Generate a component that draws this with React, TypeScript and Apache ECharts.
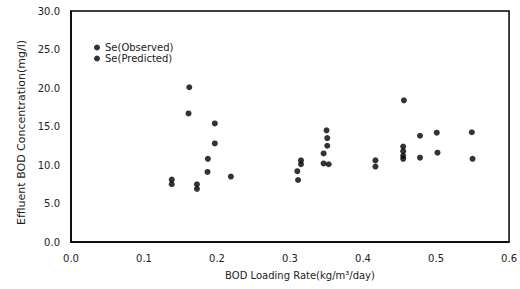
import React, { useEffect, useRef } from "react";
import * as echarts from "echarts";

const observedX = [0.138, 0.1725, 0.162, 0.197, 0.1875, 0.219, 0.31, 0.315, 0.35, 0.351, 0.417, 0.456, 0.455, 0.478, 0.501, 0.549];
const observedY = [8.1, 7.5, 20.1, 15.4, 10.8, 8.5, 9.2, 10.6, 14.5, 13.5, 10.6, 18.4, 12.4, 13.8, 14.2, 14.25];
const predictedX = [0.138, 0.1725, 0.161, 0.197, 0.187, 0.311, 0.315, 0.351, 0.346, 0.346, 0.353, 0.417, 0.455, 0.455, 0.455, 0.478, 0.502, 0.55];
const predictedY = [7.5, 6.9, 16.7, 12.8, 9.1, 8.05, 10.1, 12.5, 11.5, 10.2, 10.1, 9.8, 11.8, 11.2, 10.8, 10.95, 11.6, 10.8];

const seriesNames = ["Se(Observed)", "Se(Predicted)"];
const xTitle = "BOD Loading Rate(kg/m\u00B3/day)";
const yTitle = "Effluent BOD Concentration(mg/l)";

const FONT = "DejaVu Sans";
const TXT = "#222";

export default function App() {
  const ref = useRef<HTMLDivElement>(null);
  useEffect(() => {
    const chart = echarts.init(ref.current!, null, { renderer: "svg" });
    const mk = (xs: number[], ys: number[]) => xs.map((x, i) => [x, ys[i]]);
    chart.setOption({
      animation: false,
      backgroundColor: "#fff",
      grid: {
        left: 71,
        top: 11,
        right: 10,
        bottom: 47,
        show: true,
        borderColor: "#000",
        borderWidth: 1.5,
      },
      legend: {
        orient: "vertical",
        left: 94,
        top: 42,
        itemWidth: 6,
        itemHeight: 6,
        itemGap: 0,
        itemTextGap: 3,
        padding: 0,
        icon: "circle",
        textStyle: { fontFamily: FONT, fontSize: 10, lineHeight: 11, color: TXT },
        data: seriesNames,
      },
      xAxis: {
        type: "value",
        min: 0,
        max: 0.6,
        interval: 0.1,
        name: xTitle,
        nameLocation: "middle",
        nameGap: 28,
        nameTextStyle: { fontFamily: FONT, fontSize: 10, color: TXT, padding: [0, 0, 0, 20] },
        axisLine: { show: true, lineStyle: { color: "#000", width: 1.5 } },
        axisTick: { show: false },
        splitLine: { show: false },
        axisLabel: {
          margin: 11,
          fontFamily: FONT,
          fontSize: 10,
          color: TXT,
          formatter: (v: number) => v.toFixed(1),
        },
      },
      yAxis: {
        type: "value",
        min: 0,
        max: 30,
        interval: 5,
        name: yTitle,
        nameLocation: "middle",
        nameGap: 44,
        nameTextStyle: { fontFamily: FONT, fontSize: 11, color: TXT, padding: [0, 12, 0, 0] },
        axisLine: { show: true, lineStyle: { color: "#000", width: 1.5 } },
        axisTick: { show: false },
        splitLine: { show: false },
        axisLabel: {
          margin: 11,
          fontFamily: FONT,
          fontSize: 10,
          color: TXT,
          formatter: (v: number) => v.toFixed(1),
        },
      },
      series: [
        {
          name: seriesNames[0],
          type: "scatter",
          symbol: "circle",
          symbolSize: 6,
          itemStyle: { color: "#000" },
          data: mk(observedX, observedY),
        },
        {
          name: seriesNames[1],
          type: "scatter",
          symbol: "circle",
          symbolSize: 6,
          itemStyle: { color: "#000" },
          data: mk(predictedX, predictedY),
        },
      ],
    });
    return () => chart.dispose();
  }, []);
  return <div ref={ref} style={{ width: 520, height: 289, position: "absolute", left: 0, top: 0 }} />;
}
